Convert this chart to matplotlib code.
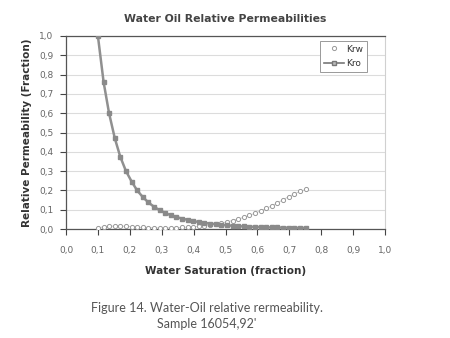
import matplotlib
matplotlib.use("Agg")
import matplotlib.pyplot as plt
from matplotlib.lines import Line2D

# water saturation (fraction) for each measured point
sw = [0.100, 0.118, 0.135, 0.153, 0.170, 0.188, 0.206, 0.223, 0.241, 0.258,
      0.276, 0.294, 0.311, 0.329, 0.346, 0.364, 0.382, 0.399, 0.417, 0.434,
      0.452, 0.470, 0.487, 0.505, 0.522, 0.540, 0.558, 0.575, 0.593, 0.610,
      0.628, 0.646, 0.663, 0.681, 0.698, 0.716, 0.734, 0.752]

krw = [0.005, 0.012, 0.014, 0.015, 0.015, 0.014, 0.012, 0.009, 0.008, 0.007,
       0.006, 0.005, 0.005, 0.006, 0.007, 0.008, 0.010, 0.012, 0.015, 0.018,
       0.022, 0.026, 0.031, 0.037, 0.044, 0.052, 0.061, 0.071, 0.082, 0.094,
       0.107, 0.121, 0.136, 0.152, 0.168, 0.182, 0.195, 0.205]

kro = [1.000, 0.760, 0.600, 0.470, 0.375, 0.300, 0.245, 0.200, 0.165, 0.138,
       0.115, 0.097, 0.083, 0.071, 0.062, 0.054, 0.047, 0.041, 0.036, 0.032,
       0.028, 0.025, 0.022, 0.019, 0.017, 0.015, 0.013, 0.012, 0.011, 0.010,
       0.009, 0.008, 0.008, 0.007, 0.007, 0.006, 0.006, 0.006]

ticks = [0.0, 0.1, 0.2, 0.3, 0.4, 0.5, 0.6, 0.7, 0.8, 0.9, 1.0]
tick_labels = ["0,0", "0,1", "0,2", "0,3", "0,4", "0,5", "0,6", "0,7", "0,8", "0,9", "1,0"]

fig = plt.figure(figsize=(4.5, 3.38), dpi=100)
ax = fig.add_axes([66/450, 1 - 229/338, 319/450, 193/338])

# krw: open circles with a faint joining line
ax.plot(sw, krw, color="#c8c8c8", lw=0.6, zorder=2)
ax.plot(sw, krw, ls="none", marker="o", ms=3, mfc="white", mec="#999999", mew=0.7, zorder=3)
# kro: grey line with square markers
ax.plot(sw, kro, color="#909090", lw=1.8, marker="s", ms=3.2, mfc="#8a8a8a", mec="#8a8a8a", zorder=4)

ax.set_xlim(0, 1)
ax.set_ylim(0, 1)
ax.set_xticks(ticks)
ax.set_xticklabels(tick_labels)
ax.set_yticks(ticks)
ax.set_yticklabels(tick_labels)
ax.tick_params(axis="x", length=4, width=0.8, color="#444444", pad=8, labelsize=6.5, labelcolor="#666666")
ax.tick_params(axis="y", length=4, width=0.8, color="#444444", pad=5, labelsize=6.5, labelcolor="#666666")

ax.grid(axis="y", color="#dcdcdc", lw=0.8)
ax.set_axisbelow(True)
for s in ["left", "top", "bottom"]:
    ax.spines[s].set_color("#555555")
    ax.spines[s].set_linewidth(0.9)
ax.spines["right"].set_color("#d0d0d0")
ax.spines["right"].set_linewidth(0.8)

ax.set_title("Water Oil Relative Permeabilities", fontsize=7.8, fontweight="bold", color="#444444", pad=10)
ax.set_xlabel("Water Saturation (fraction)", fontsize=7.5, fontweight="bold", color="#333333", labelpad=8)
ax.set_ylabel("Relative Permeability (Fraction)", fontsize=7.5, fontweight="bold", color="#333333", labelpad=5)

handles = [
    Line2D([], [], ls="none", marker="o", ms=3, mfc="white", mec="#999999", mew=0.7),
    Line2D([], [], color="#777777", lw=1.2, marker="s", ms=3.2, mfc="#bbbbbb", mec="#777777"),
]
leg = ax.legend(handles, ["Krw", "Kro"], loc="upper right", bbox_to_anchor=(0.944, 0.974),
                fontsize=6.5, frameon=True, fancybox=False, framealpha=1,
                edgecolor="#999999", handlelength=2.2, handletextpad=0.3,
                borderpad=0.4, labelspacing=0.6, borderaxespad=0)
leg.get_frame().set_linewidth(0.7)
for t in leg.get_texts():
    t.set_color("#333333")

fig.text(207/450, 1 - 316/338, "Figure 14. Water-Oil relative rermeability.\nSample 16054,92'",
         ha="center", va="center", fontsize=9, family="Lato", color="#555555",
         linespacing=1.35)

fig.savefig("out.png", dpi=100)
